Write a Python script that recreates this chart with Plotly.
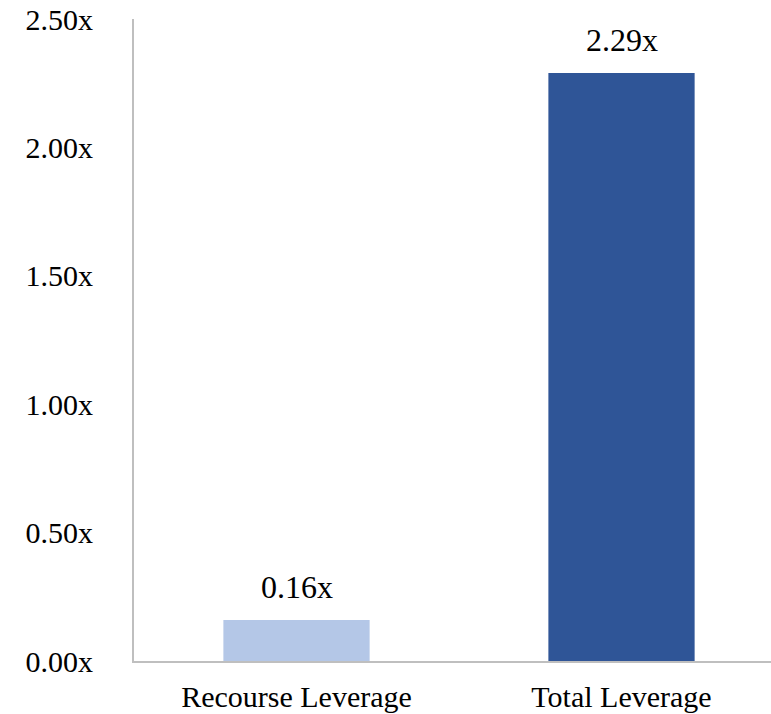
import plotly.graph_objects as go

categories = ["Recourse Leverage", "Total Leverage"]
values = [0.16, 2.29]
bar_colors = ["#B4C7E7", "#2F5597"]
tick_vals = [0, 0.5, 1.0, 1.5, 2.0, 2.5]
tick_text = ["0.00x", "0.50x", "1.00x", "1.50x", "2.00x", "2.50x"]

FONT = "Liberation Serif, DejaVu Serif, serif"

fig = go.Figure()
fig.add_trace(go.Bar(
    x=[0, 1], y=values, marker=dict(color=bar_colors, line=dict(width=0)),
    width=0.45, hoverinfo="skip",
))
for i, v in enumerate(values):
    fig.add_annotation(x=i, y=v, text=f"{v:.2f}x", showarrow=False,
                       yanchor="bottom", yshift=13,
                       font=dict(family=FONT, size=32, color="#000000"))

fig.update_layout(
    width=771, height=714,
    margin=dict(l=134, r=0, t=19, b=53),
    plot_bgcolor="white", paper_bgcolor="white",
    showlegend=False,
    font=dict(family=FONT, size=30, color="#000000"),
    xaxis=dict(
        range=[-0.5, 1.46], tickvals=[0, 1], ticktext=categories,
        showline=True, linecolor="#BFBFBF", linewidth=2,
        showgrid=False, zeroline=False, ticks="",
        ticklabelstandoff=8,
        tickfont=dict(family=FONT, size=30),
    ),
    yaxis=dict(
        range=[0, 2.5], tickvals=tick_vals, ticktext=tick_text,
        showline=True, linecolor="#BFBFBF", linewidth=2,
        showgrid=False, zeroline=False, ticks="",
        ticklabelstandoff=33,
        tickfont=dict(family=FONT, size=30),
    ),
)

fig.write_html("out.html")
